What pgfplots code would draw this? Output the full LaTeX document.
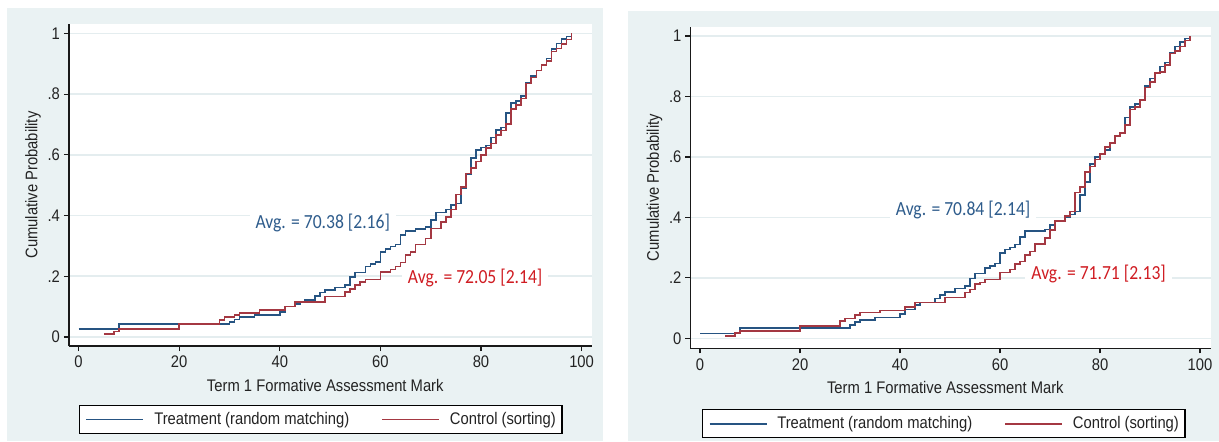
\documentclass[border=0pt]{standalone}
\usepackage{fontspec}
\setmainfont{Liberation Sans}[FakeStretch=0.88]
\newfontfamily\calib{Carlito}[FakeStretch=0.88]
\usepackage{pgfplots}
\pgfplotsset{compat=1.18}

\definecolor{bgc}{RGB}{234,242,243}
\definecolor{gridc}{RGB}{228,237,239}
\definecolor{treat}{RGB}{38,84,130}
\definecolor{ctrl}{RGB}{164,56,66}
\definecolor{tblue}{RGB}{46,92,140}
\definecolor{tred}{RGB}{208,28,34}
\definecolor{txt}{RGB}{35,35,35}

\newcommand{\lblfont}{\fontsize{8.4}{10}\selectfont}
\newcommand{\avgfont}{\calib\fontsize{10}{12}\selectfont}

\pgfplotsset{
  cdfpanel/.style={
    scale only axis, anchor=south west,
    axis x line*=bottom, axis y line*=left,
    axis line style={black!90, line width=0.6pt},
    axis background/.style={fill=white},
    tick align=outside, major tick length=2.5pt,
    tick style={black!90, line width=0.6pt},
    xtick={0,20,40,60,80,100}, xticklabels={0,20,40,60,80,100},
    ytick={0,0.2,0.4,0.6,0.8,1}, yticklabels={0,.2,.4,.6,.8,1},
    ymajorgrids, major grid style={gridc, line width=0.8pt},
    tick label style={font=\lblfont, text=txt},
    yticklabel style={xshift=1.5pt},
    xticklabel style={yshift=1pt},
    label style={font=\lblfont, text=txt},
    xlabel={Term 1 Formative Assessment Mark},
    ylabel={Cumulative Probability},
    x label style={at={(axis description cs:0.49,-0.14)}, anchor=base},
    y label style={at={(axis description cs:-0.069,0.5)}, anchor=center},
    legend columns=2, legend cell align=left,
    legend image code/.code={\draw[#1] (0pt,0pt) -- (28.5pt,0pt);},
    legend style={anchor=north west, draw=black, line width=0.7pt, fill=white,
      font=\lblfont, text=txt, inner xsep=3pt, inner ysep=3.2pt,
      nodes={inner sep=0pt, text depth=0.15em},
      /tikz/every odd column/.append style={column sep=5pt},
      /tikz/every even column/.append style={column sep=16pt}},
    every axis plot/.append style={const plot, line width=0.8pt, no marks},
  }
}

\begin{document}
\begin{tikzpicture}
\useasboundingbox (0,0) rectangle (609.5pt,220.5pt);
\fill[white] (0,0) rectangle (609.5pt,220.5pt);
\fill[bgc] (3.5pt,0) rectangle (301.5pt,216.5pt);
\fill[bgc] (314pt,0) rectangle (609.5pt,215pt);

% left panel
\begin{axis}[cdfpanel, at={(34.5pt,47.5pt)}, width=261.5pt, height=161pt,
  xmin=-1.91, xmax=102.07, ymin=-0.0297, ymax=1.031,
  legend style={at={(axis description cs:0.0191,-0.183)}}]
\node[anchor=base west, font=\avgfont, text=tblue, fill=white, inner xsep=3pt, inner ysep=1pt]
  at (axis cs:33.9,0.358) {Avg. = 70.38 [2.16]};
\node[anchor=base west, font=\avgfont, text=tred, fill=white, inner xsep=3pt, inner ysep=1pt]
  at (axis cs:64.2,0.175) {Avg. = 72.05 [2.14]};
\addplot[treat] coordinates {
(0,0.026) (8,0.043) (30,0.05) (31,0.058) (32,0.066) (35,0.073) (40,0.083)
(41,0.1) (43,0.108) (44,0.116) (45,0.122) (47,0.135) (48,0.146) (49,0.155)
(51,0.163) (53,0.172) (54,0.198) (55,0.212) (57,0.232) (58,0.24) (59,0.248)
(60,0.28) (61,0.29) (62,0.298) (63,0.305) (64,0.335) (65,0.35) (67,0.355)
(69,0.362) (70,0.385) (71,0.41) (73,0.42) (74,0.435) (75,0.44) (76,0.49)
(77,0.535) (78,0.59) (79,0.615) (80,0.624) (81,0.631) (82,0.657) (83,0.682)
(84,0.69) (85,0.737) (86,0.77) (87,0.778) (88,0.794) (89,0.836) (90,0.86)
(91,0.878) (92,0.898) (93,0.918) (94,0.948) (95,0.967) (96,0.982) (97,0.99)
(98,1.0)};
\addlegendentry{Treatment (random matching)}
\addplot[ctrl] coordinates {
(5,0.01) (7,0.018) (8,0.027) (20,0.043) (28,0.056) (29,0.066) (31,0.073)
(32,0.08) (36,0.088) (41,0.1) (43,0.116) (49,0.133) (53,0.148) (54,0.158)
(55,0.172) (56,0.182) (57,0.19) (60,0.215) (62,0.222) (63,0.232) (64,0.245)
(65,0.27) (66,0.28) (67,0.305) (69,0.325) (70,0.358) (72,0.378) (73,0.395)
(74,0.42) (75,0.47) (76,0.495) (77,0.538) (78,0.556) (79,0.578) (80,0.6)
(81,0.622) (82,0.638) (83,0.665) (84,0.68) (85,0.702) (86,0.752) (87,0.765)
(88,0.785) (89,0.835) (90,0.855) (91,0.878) (92,0.895) (93,0.91) (94,0.94)
(95,0.95) (96,0.965) (97,0.98) (98,1.0)};
\addlegendentry{Control (sorting)}
\end{axis}

% right panel
\begin{axis}[cdfpanel, at={(345.2pt,46.35pt)}, width=260.15pt, height=160.8pt,
  xmin=-1.92, xmax=102.14, ymin=-0.033, ymax=1.031,
  legend style={at={(axis description cs:0.0223,-0.189)}}]
\node[anchor=base west, font=\avgfont, text=tblue, fill=white, inner xsep=3pt, inner ysep=1pt]
  at (axis cs:37.9,0.408) {Avg. = 70.84 [2.14]};
\node[anchor=base west, font=\avgfont, text=tred, fill=white, inner xsep=3pt, inner ysep=1pt]
  at (axis cs:65.0,0.195) {Avg. = 71.71 [2.13]};
\addplot[treat] coordinates {
(0,0.0165) (8,0.035) (30,0.044) (31,0.055) (32,0.06) (35,0.069) (40,0.08)
(41,0.096) (43,0.11) (44,0.119) (47,0.132) (48,0.143) (49,0.154) (51,0.165)
(53,0.174) (54,0.198) (55,0.215) (57,0.232) (58,0.24) (59,0.248) (60,0.283)
(61,0.294) (62,0.3) (63,0.31) (64,0.336) (65,0.355) (69,0.36) (70,0.375)
(71,0.39) (73,0.4) (74,0.41) (75,0.42) (76,0.474) (77,0.518) (78,0.577)
(79,0.6) (80,0.61) (81,0.623) (82,0.645) (83,0.669) (84,0.68) (85,0.731)
(86,0.766) (87,0.775) (88,0.79) (89,0.835) (90,0.86) (91,0.879) (92,0.899)
(93,0.912) (94,0.945) (95,0.965) (96,0.981) (97,0.992) (98,1.0)};
\addlegendentry{Treatment (random matching)}
\addplot[ctrl] coordinates {
(5,0.008) (7,0.017) (8,0.024) (20,0.041) (28,0.058) (29,0.066) (31,0.077)
(32,0.085) (36,0.092) (41,0.103) (43,0.118) (49,0.135) (53,0.151) (54,0.162)
(55,0.179) (56,0.185) (57,0.195) (60,0.218) (62,0.228) (63,0.245) (64,0.254)
(65,0.276) (66,0.287) (67,0.312) (69,0.331) (70,0.358) (71,0.389) (73,0.405)
(74,0.42) (75,0.482) (76,0.5) (77,0.551) (78,0.568) (79,0.592) (80,0.61)
(81,0.634) (82,0.647) (83,0.669) (84,0.68) (85,0.706) (86,0.757) (87,0.766)
(88,0.788) (89,0.83) (90,0.849) (91,0.877) (92,0.882) (93,0.904) (94,0.943)
(95,0.951) (96,0.965) (97,0.985) (98,1.0)};
\addlegendentry{Control (sorting)}
\end{axis}
\end{tikzpicture}
\end{document}
